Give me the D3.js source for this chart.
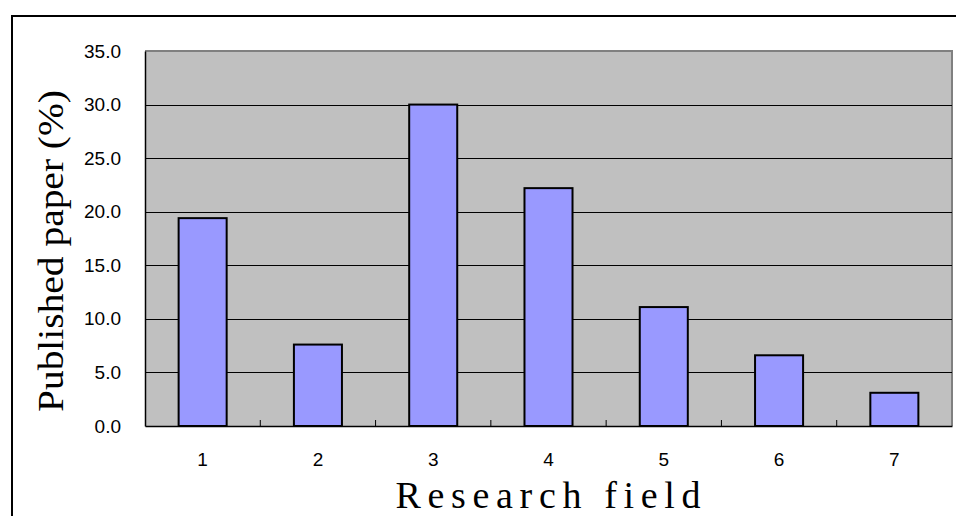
<!DOCTYPE html>
<html><head><meta charset="utf-8">
<script src="https://cdn.jsdelivr.net/npm/d3@7"></script>
<style>html,body{margin:0;padding:0;background:#fff;overflow:hidden}</style>
</head><body>
<svg id="chart" width="956" height="516"></svg>
<script>
const categories = ["1","2","3","4","5","6","7"];
const values = [19.4, 7.6, 30.0, 22.2, 11.1, 6.6, 3.1];
const yTicks = [0,5,10,15,20,25,30,35];
const xTitle = "Research field";
const yTitle = "Published paper (%)";

const svg = d3.select("#chart");
const m = {left:145, top:51, right:952, bottom:426};

// outer chart border
svg.append("rect").attr("x",12).attr("y",16).attr("width",960).attr("height",520)
  .attr("fill","none").attr("stroke","#000").attr("stroke-width",2);

const x = d3.scaleBand().domain(categories).range([m.left,m.right]).padding(0);
const y = d3.scaleLinear().domain([0,35]).range([m.bottom,m.top]);

// plot area
svg.append("rect").attr("x",m.left).attr("y",m.top).attr("width",m.right-m.left).attr("height",m.bottom-m.top)
  .attr("fill","#c0c0c0");
svg.append("path").attr("d",`M${m.left},${m.top}H${m.right}V${m.bottom}`)
  .attr("fill","none").attr("stroke","#808080").attr("stroke-width",2);

// gridlines
svg.append("g").selectAll("line").data(yTicks.filter(t=>t>0 && t<35)).join("line")
  .attr("x1",m.left).attr("x2",m.right)
  .attr("y1",d=>Math.round(y(d))+0.5).attr("y2",d=>Math.round(y(d))+0.5)
  .attr("stroke","#000").attr("stroke-width",1);

// bars
const bw = x.bandwidth()/2.4;
svg.append("g").selectAll("rect").data(values).join("rect")
  .attr("x",(d,i)=>x(categories[i])+x.bandwidth()/2-bw/2)
  .attr("y",d=>y(d))
  .attr("width",bw)
  .attr("height",d=>y(0)-y(d))
  .attr("fill","#9999ff").attr("stroke","#000").attr("stroke-width",2);

function styleTicks(g){
  g.selectAll(".tick text")
    .style("font-family","'Liberation Sans', Arial, sans-serif")
    .style("font-size","19px").style("fill","#000");
}
// y axis
const yAxis = d3.axisLeft(y).tickValues(yTicks).tickFormat(d3.format(".1f")).tickSize(0).tickPadding(24);
const gy = svg.append("g").attr("transform",`translate(${m.left},0)`).call(yAxis);
gy.select(".domain").attr("stroke","#000").attr("stroke-width",1.5);
styleTicks(gy);

// x axis
const xAxis = d3.axisBottom(x).tickSize(0).tickPadding(27);
const gx = svg.append("g").attr("transform",`translate(0,${m.bottom})`).call(xAxis);
gx.select(".domain").attr("stroke","#000").attr("stroke-width",1.5);
styleTicks(gx);
// category separator ticks pointing inward
svg.append("g").selectAll("line").data(categories.slice(1)).join("line")
  .attr("x1",d=>x(d)).attr("x2",d=>x(d)).attr("y1",m.bottom).attr("y2",m.bottom-6)
  .attr("stroke","#000").attr("stroke-width",1);

// titles
svg.append("text").attr("x",548).attr("y",508).attr("text-anchor","middle")
  .attr("font-family","'Liberation Serif', 'DejaVu Serif', serif").attr("font-size",38)
  .attr("textLength",305).attr("lengthAdjust","spacing").attr("fill","#000").text(xTitle);
svg.append("text").attr("transform","translate(63,251) rotate(-90)").attr("text-anchor","middle")
  .attr("font-family","'Liberation Serif', 'DejaVu Serif', serif").attr("font-size",36)
  .attr("textLength",322).attr("lengthAdjust","spacingAndGlyphs").attr("fill","#000").text(yTitle);
</script>
</body></html>
